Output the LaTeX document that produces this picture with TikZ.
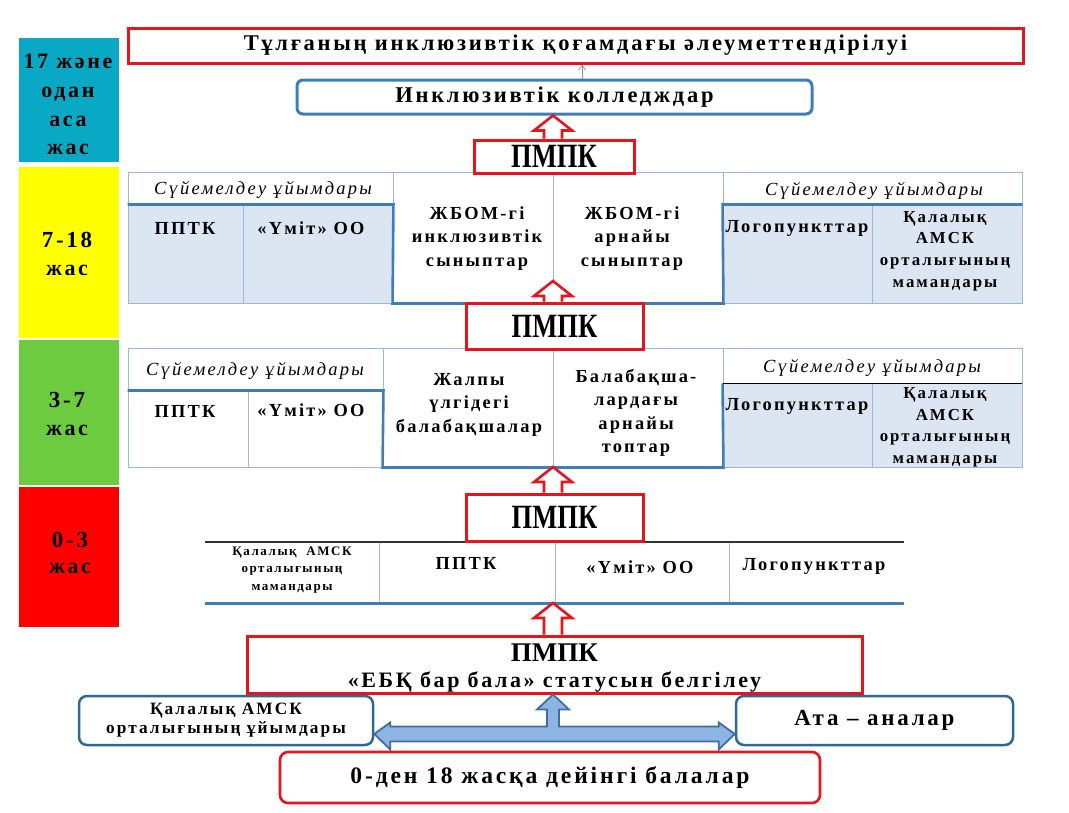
\documentclass[tikz,border=0pt]{standalone}
\usepackage{fontspec}
\setmainfont{Liberation Serif}
\newfontfamily\spb[LetterSpace=12]{Liberation Serif Bold}
\newfontfamily\spi[LetterSpace=12]{Liberation Serif Italic}
\newfontfamily\cnb[FakeStretch=0.78]{Liberation Serif Bold}
\newfontfamily\plb{Liberation Serif Bold}
\usetikzlibrary{calc,arrows.meta}
\definecolor{redc}{HTML}{E5141D}
\definecolor{bluec}{HTML}{3F7DB9}
\definecolor{darkblue}{HTML}{2F6797}
\definecolor{tline}{HTML}{9DB7D6}
\definecolor{cellfill}{HTML}{DCE6F2}
\definecolor{tealc}{HTML}{09A8C5}
\definecolor{yelc}{HTML}{FFFF00}
\definecolor{grnc}{HTML}{6CCB3F}
\definecolor{redage}{HTML}{FF0000}
\definecolor{arrfill}{HTML}{8DB4E2}
\definecolor{arrdraw}{HTML}{3E6DA3}
\begin{document}
\begin{tikzpicture}[x=1pt,y=-1pt,
  agebox/.style={inner sep=0pt, align=center, font=\spb\fontsize{22}{28}\selectfont},
  redbox/.style={draw=redc, line width=3pt, fill=white, inner sep=0pt, align=center},
  bluebox/.style={draw=bluec, line width=3pt, rounded corners=6pt, fill=white, inner sep=0pt, align=center},
  dbluebox/.style={draw=darkblue, line width=2.5pt, rounded corners=8pt, fill=white, inner sep=0pt, align=center},
  cell/.style={draw=tline, line width=0.9pt, inner sep=0pt},
  ccell/.style={cell, fill=cellfill},
  thickline/.style={draw=bluec, line width=2.6pt},
  ttext/.style={align=center, inner sep=0pt, font=\spb\fontsize{18.4}{23.5}\selectfont},
  btext/.style={inner sep=0pt, anchor=base, font=\spb\fontsize{18.4}{23.5}\selectfont},
  htext/.style={inner sep=0pt, anchor=base, font=\spi\fontsize{18.5}{20}\selectfont},
  pmpk/.style={font=\cnb\fontsize{34}{36}\selectfont},
  ztext/.style={inner sep=0pt, anchor=base, font=\spb\fontsize{18.4}{21}\selectfont},
  redarr/.style={draw=redc, line width=2.6pt, fill=white, line join=miter},
  bluearr/.style={draw=arrdraw, line width=1.8pt, fill=arrfill, line join=miter}
]
\useasboundingbox[fill=white] (0,0) rectangle (1069,812);

% age column
\fill[tealc] (19,38) rectangle (119,162);
\fill[yelc] (19,167) rectangle (119,338);
\fill[grnc] (19,340) rectangle (119,485);
\fill[redage] (19,487) rectangle (119,627);
\node[agebox, font=\spb\fontsize{22}{28.7}\selectfont] (a17) at (68,104.5) {17 және\\одан\\аса\\жас};
\node[agebox] (a7) at (67,253.5) {{\fontsize{23}{28}\selectfont 7-18}\\жас};
\node[agebox] (a3) at (67,413.5) {{\fontsize{23}{28}\selectfont 3-7}\\жас};
\node[agebox, font=\spb\fontsize{22}{26}\selectfont] (a0) at (70,552.5) {{\fontsize{23}{26}\selectfont 0-3}\\жас};

% top
\node[redbox, minimum width=895pt, minimum height=35pt, font=\spb\fontsize{22.5}{24}\selectfont] (title) at (575.5,45.5) {Тұлғаның инклюзивтік қоғамдағы әлеуметтендірілуі};
\node[bluebox, minimum width=515pt, minimum height=34pt, font=\spb\fontsize{22.5}{24}\selectfont] (college) at (554.5,97) {Инклюзивтік колледждар};
\draw[draw=tline!80!black, line width=0.7pt, -{Straight Barb[length=5pt,width=7pt]}] (college.north -| 582,0) -- (title.south -| 582,0);

% 7-18 table
\node[cell, minimum width=265pt, minimum height=32pt] (h1) at (260.5,188) {};
\node[ccell, minimum width=115pt, minimum height=99pt] (c1a) at (185.5,253.5) {};
\node[ccell, minimum width=150pt, minimum height=99pt] (c1b) at (318,253.5) {};
\node[cell, minimum width=160pt, minimum height=131pt] (m1a) at (473,237.5) {};
\node[cell, minimum width=170pt, minimum height=131pt] (m1b) at (638,237.5) {};
\node[cell, minimum width=299pt, minimum height=32pt] (h1r) at (872.5,188) {};
\node[ccell, minimum width=149pt, minimum height=99pt] (c1c) at (797.5,253.5) {};
\node[ccell, minimum width=150pt, minimum height=99pt] (c1d) at (947,253.5) {};
\draw[thickline] (h1.south west) -- (h1.south east) -- (m1a.south west) -- (m1b.south east) -- (h1r.south west) -- (h1r.south east);
\node[htext] (t1h) at (263,194) {Сүйемелдеу ұйымдары};
\node[htext] (t1hr) at (874,195) {Сүйемелдеу ұйымдары};
\node[btext] (t1a) at (185,234) {ППТК};
\node[btext] (t1b) at (311,234) {«Үміт» ОО};
\node[ttext] (t1m) at (477,238.5) {ЖБОМ-гі\\инклюзивтік\\сыныптар};
\node[ttext] (t1n) at (632,238.5) {ЖБОМ-гі\\арнайы\\сыныптар};
\node[btext] (t1c) at (797,232) {Логопункттар};
\node[ttext, font=\spb\fontsize{16.8}{21.7}\selectfont] (t1d) at (945,251) {Қалалық\\АМСК\\орталығының\\мамандары};

\node[redbox, minimum width=160pt, minimum height=33pt, pmpk] (p1) at (554,156.5) {ПМПК};
\coordinate (tip2) at (553,281);

% 3-7 table
\node[cell, minimum width=255pt, minimum height=42pt] (h2) at (255.5,369) {};
\node[cell, minimum width=120pt, minimum height=77pt] (c2a) at (188,428.5) {};
\node[cell, minimum width=135pt, minimum height=77pt] (c2b) at (315.5,428.5) {};
\node[cell, minimum width=170pt, minimum height=119pt] (m2a) at (468,407.5) {};
\node[cell, minimum width=170pt, minimum height=119pt] (m2b) at (638,407.5) {};
\node[cell, minimum width=299pt, minimum height=35pt] (h2r) at (872.5,365.5) {};
\node[ccell, minimum width=149pt, minimum height=84pt] (c2c) at (797.5,425) {};
\node[ccell, minimum width=150pt, minimum height=84pt] (c2d) at (947,425) {};
\draw[thickline] (h2.south west) -- (h2.south east) -- (m2a.south west) -- (m2b.south east) -- (h2r.south west);
\draw[black, line width=1pt] (h2r.south west) -- (h2r.south east);
\node[htext] (t2h) at (255,375) {Сүйемелдеу ұйымдары};
\node[htext] (t2hr) at (872,372) {Сүйемелдеу ұйымдары};
\node[btext] (t2a) at (185,417) {ППТК};
\node[btext] (t2b) at (311,416) {«Үміт» ОО};
\node[ttext] (t2m) at (469,404.5) {Жалпы\\үлгідегі\\балабақшалар};
\node[ttext] (t2n) at (636,413) {Балабақша-\\лардағы\\арнайы\\топтар};
\node[btext] (t2c) at (797,410) {Логопункттар};
\node[ttext, font=\spb\fontsize{16.8}{21.5}\selectfont] (t2d) at (945,427.5) {Қалалық\\АМСК\\орталығының\\мамандары};

\node[redbox, minimum width=177pt, minimum height=46pt, pmpk] (p2) at (554.5,326) {ПМПК};
\coordinate (tip3) at (553,467);

% 0-3 table
\coordinate (z0) at (205,542);
\coordinate (z1) at (904,603);
\draw[tline, line width=0.9pt] (379,542) -- (379,603) (555,542) -- (555,603) (729,542) -- (729,603);
\draw[black!80, line width=1.2pt] (z0) -- (z0 -| z1);
\draw[thickline, line width=3pt] (z0 |- z1) -- (z1);
\node[align=center, inner sep=0pt, font=\spb\fontsize{13}{17.5}\selectfont] (z1t) at (292,570) {Қалалық\ \ АМСК\\орталығының\\мамандары};
\node[ztext] (z2t) at (466,569) {ППТК};
\node[ztext] (z3t) at (640,573) {«Үміт» ОО};
\node[ztext] (z4t) at (814,570) {Логопункттар};

\node[redbox, minimum width=177pt, minimum height=47pt, pmpk] (p3) at (554.5,517.5) {ПМПК};
\coordinate (tip4) at (553,603);

\node[redbox, minimum width=615pt, minimum height=57pt] (p4) at (554.5,664.5) {};
\node[align=center, inner sep=0pt, font=\spb\fontsize{22}{26}\selectfont] (p4t) at (554.5,668) {{\plb\fontsize{27}{26}\selectfont ПМПК}\\«ЕБҚ бар бала» статусын белгілеу};

% red hollow arrows
\newcommand\hollowup[2]{%
  \draw[redarr] let \p1=(#1), \p2=(#2) in
    (\x1-9pt,\y1) -- (\x1-9pt,\y2-15pt) -- (\x1-19pt,\y2-15pt) -- (\x1,\y2)
    -- (\x1+19pt,\y2-15pt) -- (\x1+9pt,\y2-15pt) -- (\x1+9pt,\y1);}
\hollowup{p1.north -| 553,0}{college.south -| 553,0}
\hollowup{p2.north -| 553,0}{tip2}
\hollowup{p3.north -| 553,0}{tip3}
\hollowup{p4.north -| 553,0}{tip4}

% bottom
\node[dbluebox, minimum width=294pt, minimum height=49pt, font=\spb\fontsize{17.3}{19}\selectfont] (amsk) at (226,720.5) {Қалалық АМСК\\орталығының ұйымдары};
\node[dbluebox, minimum width=277pt, minimum height=49pt, font=\spb\fontsize{23}{24}\selectfont] (parents) at (874.5,720.5) {Ата – аналар};
\node[redbox, line width=2.6pt, rounded corners=8pt, minimum width=540pt, minimum height=51pt, font=\spb\fontsize{23.6}{24}\selectfont] (kids) at (550,777.5) {0-ден 18 жасқа дейінгі балалар};

\draw[bluearr] let \p1=(amsk.east), \p2=(parents.west), \p3=(p4.south) in
  (\x1,\y1-13.5pt) -- (\x1+16pt,\y1-2pt) -- (\x1+16pt,\y1-6pt) -- (547pt,\y1-6pt) -- (547pt,\y3-15pt) -- (537pt,\y3-15pt)
  -- (553pt,\y3) -- (569pt,\y3-15pt) -- (559pt,\y3-15pt) -- (559pt,\y1-6pt) -- (\x2-16pt,\y1-6pt) -- (\x2-16pt,\y1-2pt)
  -- (\x2,\y1-13.5pt) -- (\x2-16pt,\y1-29pt) -- (\x2-16pt,\y1-21pt) -- (\x1+16pt,\y1-21pt) -- (\x1+16pt,\y1-29pt) -- cycle;
\end{tikzpicture}
\end{document}
